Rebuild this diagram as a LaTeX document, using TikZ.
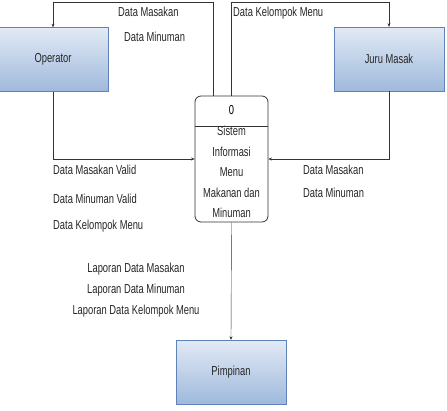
\documentclass[tikz,border=0pt]{standalone}
\usepackage{fontspec}
\setmainfont[FakeStretch=0.72]{Liberation Sans}
\usepackage{xcolor}
\usepackage{tikz}
\usetikzlibrary{arrows.meta,positioning,calc}

\definecolor{boxtop}{HTML}{E2EAF5}
\definecolor{boxbottom}{HTML}{9FB9DC}
\definecolor{boxline}{HTML}{5F82B8}
\definecolor{flowline}{HTML}{333333}

\begin{document}
\begin{tikzpicture}[
        x=1pt, y=-1pt,
        font=\fontsize{13}{15}\selectfont,
        entity/.style={
            draw=boxline,
            top color=boxtop,
            bottom color=boxbottom,
            minimum width=110pt,
            minimum height=64pt,
            text=black!85
        },
        process/.style={
            draw=black!80,
            thick,
            rounded corners=6pt,
            minimum width=73pt,
            minimum height=126pt
        },
        flowlabel/.style={
            anchor=west,
            inner sep=0pt,
            text=black!85
        },
        arrow/.style={
            -{Stealth[length=3.5pt,width=3pt]},
            draw=flowline
        }
    ]

        \useasboundingbox (0,0) rectangle (447,410);

        \node[entity] (operator) at (53,59.5) {Operator};
        \node[entity] (juru) at (389,59) {Juru Masak};
        \node[process] (sistem) at (231.5,159) {};
        \node[entity] (pimpinan) at (231,372) {Pimpinan};

        \node (sistemid) at (231.5,110) {0};
        \draw[black!80] ([yshift=-31pt]sistem.north west) -- ([yshift=-31pt]sistem.north east);
        \node[align=center, font=\fontsize{13}{20.5}\selectfont, text=black!85] (sistemname) at (231.5,172)
            {Sistem\\Informasi\\Menu\\Makanan dan\\Minuman};

        \draw[arrow] ([xshift=-18.5pt]sistem.north) -- ++(0,-93) -| (operator.north);
        \draw[arrow] (sistem.north) -- ++(0,-93) -| (juru.north);
        \draw[arrow] (operator.south) |- (sistem.west);
        \draw[arrow] (juru.south) |- (sistem.east);
        \draw[arrow] (sistem.south) -- (pimpinan.north);

        \node[flowlabel] (lblmasak) at (118,12) {Data Masakan};
        \node[flowlabel] (lblminum) at (124,37) {Data Minuman};
        \node[flowlabel] (lblkelompok) at (233,13) {Data Kelompok Menu};
        \node[flowlabel] (lblmasakvalid) at (53,170) {Data Masakan Valid};
        \node[flowlabel] (lblminumvalid) at (53,199) {Data Minuman Valid};
        \node[flowlabel] (lblkelompokop) at (53,226) {Data Kelompok Menu};
        \node[flowlabel] (lblmasakjuru) at (303,170) {Data Masakan};
        \node[flowlabel] (lblminumjuru) at (303,193) {Data Minuman};
        \node[align=center, inner sep=0pt, font=\fontsize{13}{21}\selectfont, text=black!85] (lbllaporan) at (136,290)
            {Laporan Data Masakan\\Laporan Data Minuman\\Laporan Data Kelompok Menu};

    \end{tikzpicture}
\end{document}
